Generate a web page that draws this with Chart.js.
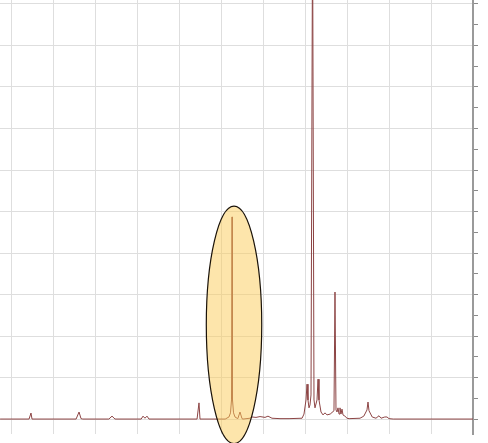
<!DOCTYPE html>
<html>
<head>
<meta charset="utf-8">
<script src="https://cdn.jsdelivr.net/npm/chart.js@4"></script>
<style>
  html, body { margin: 0; padding: 0; background: #fff; }
  #box { width: 488px; height: 443px; }
</style>
</head>
<body>
<div id="box"><canvas id="espectro"></canvas></div>
<script>
// Deslocamento (unidades do eixo x, uma linha de grade = 1)
const shifts = [
  -0.26, 0.43, 0.476, 0.5,
  1.55, 1.62, 1.667, 1.71,
  2.33, 2.405, 2.476,
  3.1, 3.143, 3.19, 3.238, 3.286,
  4.43, 4.476, 4.5,
  5.1, 5.19, 5.226, 5.25, 5.262, 5.274, 5.298, 5.333, 5.4, 5.452, 5.5, 5.524, 5.69,
  5.738, 5.833, 5.929, 6.048, 6.119, 6.214, 6.405, 6.62,
  6.93, 6.976, 7.024, 7.048, 7.071, 7.095, 7.119, 7.143, 7.18, 7.19, 7.214, 7.238, 7.286, 7.31, 7.333,
  7.381, 7.429, 7.476, 7.524, 7.6, 7.69, 7.714, 7.738, 7.762, 7.786, 7.81, 7.833, 7.857, 7.881, 7.905, 7.95, 8.0, 8.05,
  8.31, 8.4, 8.476, 8.5, 8.524, 8.6, 8.69, 8.762, 8.81, 8.9, 8.952, 9.0, 9.1, 11.0
];

// Intensidade (unidades do eixo y, uma linha de grade = 1)
const intensities = [
  0, 0, 0.145, 0,
  0, 0.17, 0.01, 0,
  0, 0.07, 0,
  0, 0.07, 0.02, 0.07, 0,
  0, 0.39, 0,
  0, 0.05, 0.15, 0.46, 4.87, 0.46, 0.15, 0.05, 0.01, 0.17, 0.01, 0,
  0.02, 0.05, 0.04, 0.06, 0.04, 0.07, 0.02, 0.01, 0.01,
  0.02, 0.12, 0.46, 0.84, 0.46, 0.27, 0.34, 0.58, 12, 12, 0.46, 0.27, 0.46, 0.96, 0.46,
  0.17, 0.1, 0.15, 0.1, 0.12, 0.2, 3.06, 0.22, 0.17, 0.27, 0.12, 0.27, 0.12, 0.24, 0.1, 0.07, 0.02, 0.01,
  0.02, 0.07, 0.22, 0.41, 0.2, 0.05, 0.02, 0.08, 0.02, 0.05, 0.05, 0.01, 0, 0
];

// Linhas de grade / marcas do eixo
const xTicks = [0, 1, 2, 3, 4, 5, 6, 7, 8, 9, 10, 11];
const yTicks = [0, 0.5, 1, 1.5, 2, 2.5, 3, 3.5, 4, 4.5, 5, 5.5, 6, 6.5, 7, 7.5, 8, 8.5, 9, 9.5, 10];

// Elipse de destaque (em unidades dos eixos)
const highlight = { center: 5.31, halfWidth: 0.66, level: 2.27, halfHeight: 2.86 };

var pontos = shifts.map(function(x, i) {
    return { x: x, y: intensities[i] };
});

// Desenha a elipse por cima do espectro
const elipsePlugin = {
    id: 'elipse',
    afterDatasetsDraw: function(chart) {
        var xs = chart.scales.x, ys = chart.scales.y;
        var cx = xs.getPixelForValue(highlight.center);
        var cy = ys.getPixelForValue(highlight.level);
        var rx = xs.getPixelForValue(highlight.center + highlight.halfWidth) - cx;
        var ry = cy - ys.getPixelForValue(highlight.level + highlight.halfHeight);
        var ctx = chart.ctx;
        ctx.save();
        ctx.beginPath();
        ctx.ellipse(cx, cy, rx, ry, 0, 0, Math.PI * 2);
        ctx.fillStyle = 'rgba(251, 203, 88, 0.5)';
        ctx.fill();
        ctx.lineWidth = 1.2;
        ctx.strokeStyle = '#1a1208';
        ctx.stroke();
        ctx.restore();
    }
};

var ctx = document.getElementById('espectro').getContext('2d');

new Chart(ctx, {
    type: 'line',
    data: {
        datasets: [{
            data: pontos,
            borderColor: 'rgb(140, 68, 68)',
            borderWidth: 1,
            pointRadius: 0,
            tension: 0,
            fill: false
        }]
    },
    options: {
        responsive: true,
        maintainAspectRatio: false,
        animation: false,
        layout: { padding: { left: 0, right: 10, top: 0, bottom: 9 } },
        plugins: {
            legend: { display: false },
            tooltip: { enabled: false }
        },
        scales: {
            x: {
                type: 'linear',
                min: -0.262,
                max: 11,
                afterBuildTicks: function(axis) {
                    axis.ticks = xTicks.map(function(v) { return { value: v }; });
                },
                border: { display: false },
                grid: { color: '#dedede', drawTicks: false },
                ticks: { display: false }
            },
            y: {
                type: 'linear',
                position: 'right',
                min: -0.36,
                max: 10.096,
                afterBuildTicks: function(axis) {
                    axis.ticks = yTicks.map(function(v) { return { value: v }; });
                },
                border: { display: true, color: '#9a9a9a', width: 2 },
                grid: {
                    color: function(c) {
                        return (c.tick && c.tick.value % 1 === 0) ? '#dedede' : 'rgba(0,0,0,0)';
                    },
                    tickColor: '#8a8a8a',
                    tickLength: 5
                },
                ticks: { display: false }
            }
        }
    },
    plugins: [elipsePlugin]
});
</script>
</body>
</html>
